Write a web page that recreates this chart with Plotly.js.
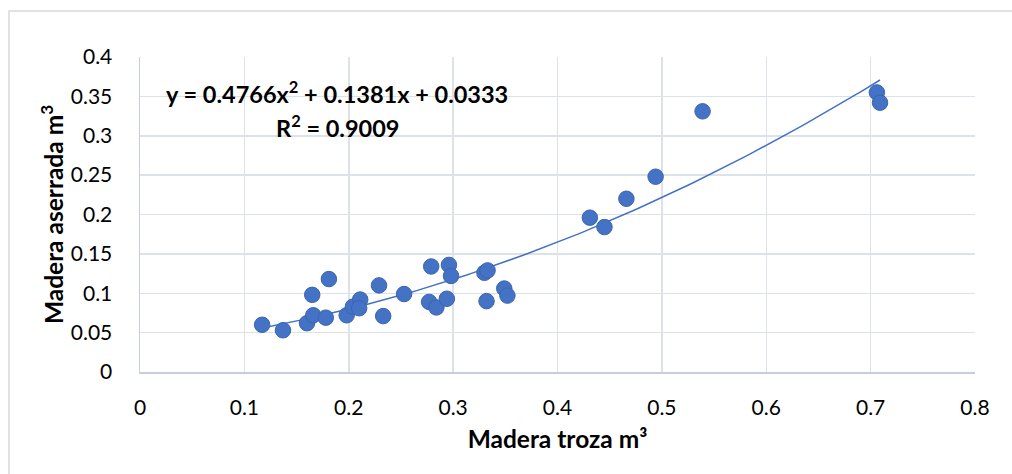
<!DOCTYPE html>
<html>
<head>
<meta charset="utf-8">
<script src="https://cdn.plot.ly/plotly-3.0.1.min.js"></script>
<style>
html,body{margin:0;padding:0;background:#fff;}
#chart{width:1012px;height:474px;}
</style>
</head>
<body>
<div id="chart"></div>
<script>
const trozaX = [0.117, 0.137, 0.160, 0.165, 0.166, 0.178, 0.181, 0.198, 0.204, 0.211, 0.210,
  0.229, 0.233, 0.253, 0.279, 0.277, 0.284, 0.294, 0.296, 0.298, 0.330, 0.333, 0.332,
  0.349, 0.352, 0.431, 0.445, 0.466, 0.494, 0.539, 0.706, 0.709];
const aserradaY = [0.060, 0.053, 0.062, 0.098, 0.072, 0.069, 0.118, 0.072, 0.083, 0.092, 0.081,
  0.110, 0.071, 0.099, 0.134, 0.089, 0.082, 0.093, 0.136, 0.122, 0.126, 0.129, 0.090,
  0.106, 0.097, 0.196, 0.184, 0.220, 0.248, 0.331, 0.355, 0.342];

// Polynomial trendline coefficients shown on the chart: a*x^2 + b*x + c
const trendCoef = [0.4766, 0.1381, 0.0333];
const trendLabel = ["y = 0.4766x<sup>2</sup> + 0.1381x + 0.0333", "R<sup>2</sup> = 0.9009"];

const xTicks = [0, 0.1, 0.2, 0.3, 0.4, 0.5, 0.6, 0.7, 0.8];
const yTicks = [0, 0.05, 0.1, 0.15, 0.2, 0.25, 0.3, 0.35, 0.4];

const xMin = Math.min(...trozaX), xMax = Math.max(...trozaX);
const trendX = [], trendY = [];
for (let i = 0; i <= 100; i++) {
  const x = xMin + (xMax - xMin) * i / 100;
  trendX.push(x);
  trendY.push(trendCoef[0] * x * x + trendCoef[1] * x + trendCoef[2]);
}

const FONT = 'Lato, "Open Sans", sans-serif';
const blue = '#4472C4';

const data = [
  {
    x: trendX, y: trendY, type: 'scatter', mode: 'lines',
    line: {color: blue, width: 1.5}, hoverinfo: 'skip', showlegend: false
  },
  {
    x: trozaX, y: aserradaY, type: 'scatter', mode: 'markers',
    marker: {color: blue, size: 15.5, line: {color: '#3b65b0', width: 1}},
    showlegend: false
  }
];

const plotL = 140, plotR = 975, plotT = 57, plotB = 372, W = 1012, H = 474;
const pw = plotR - plotL, ph = plotB - plotT;
const px = v => (v - plotL) / pw;
const py = v => (plotB - v) / ph;

const layout = {
  width: W, height: H,
  margin: {l: plotL, r: W - plotR, t: plotT, b: H - plotB},
  paper_bgcolor: '#fff', plot_bgcolor: '#fff',
  font: {family: FONT, size: 21, color: '#000'},
  xaxis: {
    range: [0, 0.8], tickvals: xTicks, ticktext: xTicks.map(String),
    showgrid: true, gridcolor: '#dde1e8', gridwidth: 1.5,
    zeroline: false, showline: true, linecolor: '#c5cee0', linewidth: 1.5,
    ticks: '', ticklabelstandoff: 16,
    tickfont: {family: FONT, size: 21, color: '#000'},
    title: {text: '<b>Madera troza m³</b>', font: {family: FONT, size: 24.5, color: '#000'}, standoff: 13}
  },
  yaxis: {
    range: [0, 0.4], tickvals: yTicks, ticktext: yTicks.map(String),
    showgrid: true, gridcolor: '#dde1e8', gridwidth: 1.5,
    zeroline: false, showline: true, linecolor: '#c5cee0', linewidth: 1.5,
    ticks: '', ticklabelstandoff: 22,
    tickfont: {family: FONT, size: 21, color: '#000'},
    title: {text: '<b>Madera aserrada m<sup>3</sup></b>', font: {family: FONT, size: 24.5, color: '#000'}, standoff: 0}
  },
  shapes: [
    {type: 'rect', xref: 'paper', yref: 'paper',
     x0: px(9), x1: px(1030), y0: py(11), y1: py(500),
     line: {color: '#d9d9d9', width: 1.5}, fillcolor: 'rgba(0,0,0,0)', layer: 'below'}
  ],
  annotations: [
    {xref: 'paper', yref: 'paper', x: px(337), y: py(92), text: '<b>' + trendLabel[0] + '</b>',
     showarrow: false, xanchor: 'center', yanchor: 'middle', font: {family: FONT, size: 23.5, color: '#000'}},
    {xref: 'paper', yref: 'paper', x: px(337), y: py(126), text: '<b>' + trendLabel[1] + '</b>',
     showarrow: false, xanchor: 'center', yanchor: 'middle', font: {family: FONT, size: 23.5, color: '#000'}}
  ]
};

Plotly.newPlot('chart', data, layout, {displayModeBar: false, staticPlot: true});
</script>
</body>
</html>
